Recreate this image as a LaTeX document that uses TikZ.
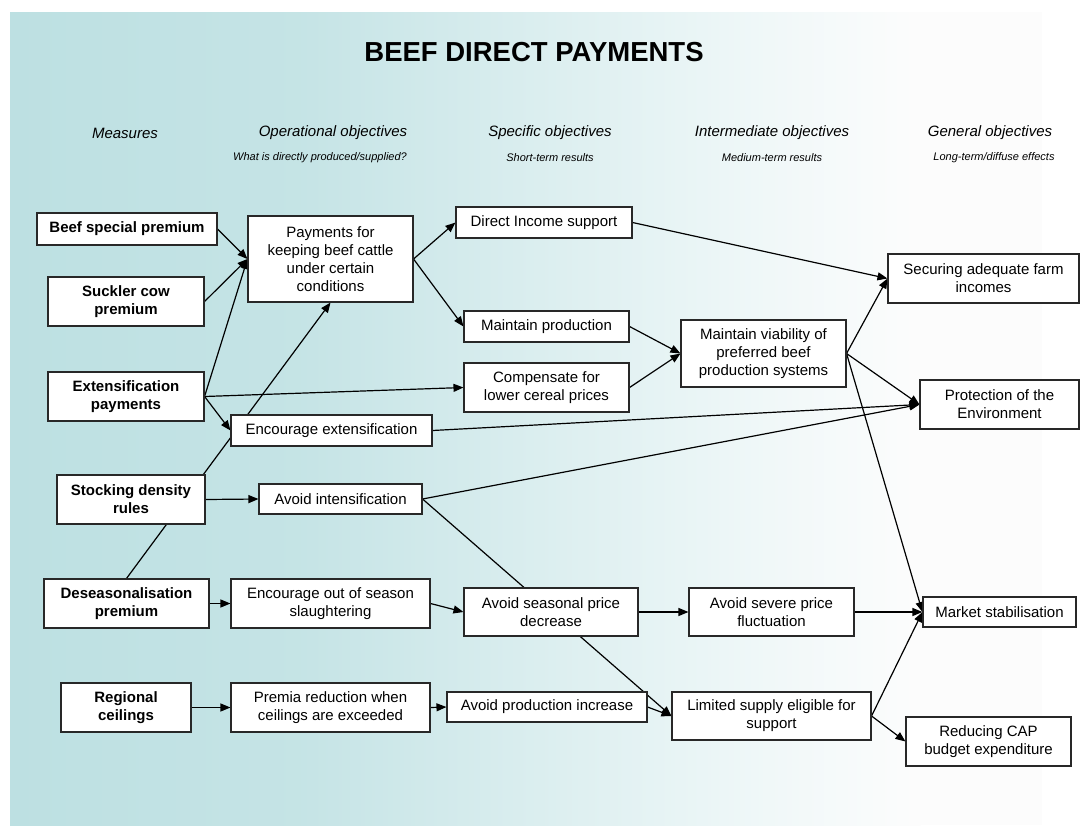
\documentclass[tikz,border=0pt]{standalone}
\usepackage{fontspec}
\setmainfont{Liberation Sans}
\usetikzlibrary{arrows.meta}
\pgfdeclarelayer{bg}
\pgfdeclarelayer{links}
\pgfsetlayers{bg,links,main}
\definecolor{tealpanel}{RGB}{189,224,226}
\definecolor{boxline}{RGB}{40,40,40}
\tikzset{
  box/.style={draw=boxline, line width=1.1pt, fill=white, align=center,
    inner sep=0pt, font=\fontsize{15}{18}\selectfont},
  bx/.style 2 args={box, minimum width=#1pt, minimum height=#2pt},
  measure/.style={font=\fontsize{15}{18}\selectfont\bfseries},
  arr/.style={line width=1.2pt, -{Triangle[length=10pt,width=8pt]}},
  colhead/.style={font=\fontsize{15}{18}\selectfont\itshape},
  colsub/.style={font=\fontsize{11}{13}\selectfont\itshape}
}
\begin{document}
\begin{tikzpicture}[x=1pt,y=-1pt]
\useasboundingbox (0,0) rectangle (1082,825);
\begin{pgfonlayer}{bg}
  \fill[white] (0,0) rectangle (1082,825);
  % panel fading from teal on the left to white on the right
  \shade[left color=tealpanel, right color=tealpanel!88!white] (10,12) rectangle (300.5,825);
  \shade[left color=tealpanel!88!white, right color=tealpanel!25!white] (300,12) rectangle (750.5,825);
  \shade[left color=tealpanel!25!white, right color=white!99!black] (750,12) rectangle (920.5,825);
  \fill[white!99!black] (920,12) rectangle (1042,825);
\end{pgfonlayer}

% title and column headings
\node[font=\fontsize{27.5}{32}\selectfont\bfseries] (title) at (534,52) {BEEF DIRECT PAYMENTS};
\node[colhead] (h1) at (125,133) {Measures};
\node[colhead] (h2) at (333,133) {Operational objectives};
\node[colsub]  (s2) at (320,158) {What is directly produced/supplied?};
\node[colhead] (h3) at (550,133) {Specific objectives};
\node[colsub]  (s3) at (550,158) {Short-term results};
\node[colhead] (h4) at (772,133) {Intermediate objectives};
\node[colsub]  (s4) at (772,158) {Medium-term results};
\node[colhead] (h5) at (990,133) {General objectives};
\node[colsub]  (s5) at (994,158) {Long-term/diffuse effects};

% measures
\node[bx={180}{32}, measure] (bsp)    at (127,229)   {Beef special premium};
\node[bx={156}{49}, measure] (suck)   at (126,301.5) {Suckler cow\\premium};
\node[bx={156}{49}, measure] (ext)    at (126,396.5) {Extensification\\payments};
\node[bx={148}{49}, measure] (stock)  at (131,499.5) {Stocking density\\rules};
\node[bx={165}{49}, measure] (deseas) at (126.5,603.5) {Deseasonalisation\\premium};
\node[bx={130}{49}, measure] (reg)    at (126,707.5) {Regional\\ceilings};

% operational objectives
\node[bx={165}{86}] (pay)    at (330.5,259)   {Payments for\\keeping beef cattle\\under certain\\conditions};
\node[bx={201}{31}] (encext) at (331.5,430.5) {Encourage extensification};
\node[bx={163}{30}] (avint)  at (340.5,499)   {Avoid intensification};
\node[bx={199}{49}] (encout) at (330.5,603.5) {Encourage out of season\\slaughtering};
\node[bx={199}{49}] (prem)   at (330.5,707.5) {Premia reduction when\\ceilings are exceeded};

% specific objectives
\node[bx={176}{31}] (dis)    at (544,222.5)   {Direct Income support};
\node[bx={165}{31}] (mprod)  at (546.5,326.5) {Maintain production};
\node[bx={165}{49}] (comp)   at (546.5,387.5) {Compensate for\\lower cereal prices};
\node[bx={174}{48}] (avseas) at (551,612)     {Avoid seasonal price\\decrease};
\node[bx={200}{30}] (avprod) at (547,707)     {Avoid production increase};

% intermediate objectives
\node[bx={165}{67}] (viab)  at (763.5,353.5) {Maintain viability of\\preferred beef\\production systems};
\node[bx={165}{48}] (avsev) at (771.5,612)   {Avoid severe price\\fluctuation};
\node[bx={199}{48}] (lim)   at (771.5,716)   {Limited supply eligible for\\support};

% general objectives
\node[bx={191}{49}] (sec)  at (983.5,278.5) {Securing adequate farm\\incomes};
\node[bx={159}{49}] (prot) at (999.5,404.5) {Protection of the\\Environment};
\node[bx={153}{30}] (mkt)  at (999.5,612)   {Market stabilisation};
\node[bx={165}{49}] (cap)  at (988.5,741.5) {Reducing CAP\\budget expenditure};

% links, kept beneath the boxes
\begin{pgfonlayer}{links}
  \draw[arr] (bsp.east) -- (pay.west);
  \draw[arr] (suck.east) -- (pay.west);
  \draw[arr] (ext.east) -- (pay.west);
  \draw[arr] (ext.east) -- (comp.west);
  \draw[arr] (ext.east) -- (encext.west);
  \draw[arr] (deseas.north) -- (pay.south);
  \draw[arr] (stock.east) -- (avint.west);
  \draw[arr] (encext.east) -- (prot.west);
  \draw[arr] (avint.east) -- (prot.west);
  \draw[arr] (avint.east) -- (lim.west);
  \draw[arr] (deseas.east) -- (encout.west);
  \draw[arr] (encout.east) -- (avseas.west);
  \draw[arr] (avseas.east) -- (avsev.west);
  \draw[arr] (reg.east) -- (prem.west);
  \draw[arr] (prem.east) -- (avprod.west);
  \draw[arr] (avprod.east) -- (lim.west);
  \draw[arr] (pay.east) -- (dis.west);
  \draw[arr] (pay.east) -- (mprod.west);
  \draw[arr] (dis.east) -- (sec.west);
  \draw[arr] (mprod.east) -- (viab.west);
  \draw[arr] (comp.east) -- (viab.west);
  \draw[arr] (viab.east) -- (sec.west);
  \draw[arr] (viab.east) -- (prot.west);
  \draw[arr] (viab.east) -- (mkt.west);
  \draw[arr] (avsev.east) -- (mkt.west);
  \draw[arr] (lim.east) -- (mkt.west);
  \draw[arr] (lim.east) -- (cap.west);
\end{pgfonlayer}
\end{tikzpicture}
\end{document}
